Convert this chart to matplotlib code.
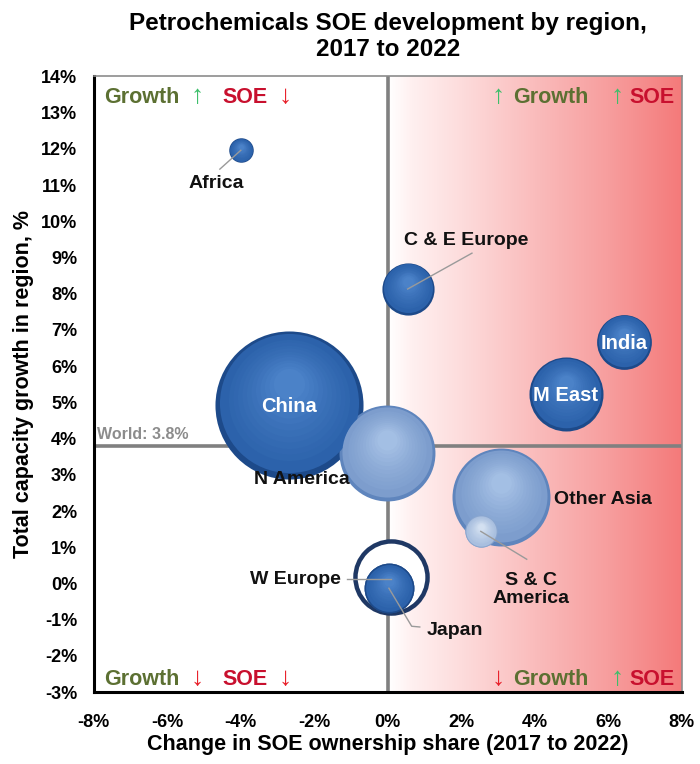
import numpy as np
import matplotlib
matplotlib.use("Agg")
import matplotlib.pyplot as plt
from matplotlib.colors import LinearSegmentedColormap, to_rgb
from matplotlib.offsetbox import TextArea, HPacker, AnchoredOffsetbox, DrawingArea
from matplotlib.transforms import ScaledTranslation

plt.rcParams['font.family'] = ['Liberation Sans', 'DejaVu Sans']
plt.rcParams['font.weight'] = 'bold'

# ---------------- data ----------------
regions = ['Africa', 'C & E Europe', 'China', 'N America', 'India', 'M East',
           'Other Asia', 'S & C America', 'W Europe', 'Japan']
soe_change = [-4.0, 0.54, -2.7, -0.03, 6.42, 4.84, 3.07, 2.53, 0.08, 0.03]   # %
cap_growth = [11.96, 8.13, 4.94, 3.6, 6.67, 5.24, 2.4, 1.44, 0.17, -0.13]    # %
bubble_area = [15, 68, 548, 230, 75, 137, 240, 26, 130, 62]                    # relative capacity
bubble_kind = ['dark', 'dark', 'dark', 'light', 'dark', 'dark', 'light', 'pale', 'ring', 'dark']
world_growth = 3.8

x_ticks = [-8, -6, -4, -2, 0, 2, 4, 6, 8]
y_ticks = list(range(-3, 15))

# ---------------- figure ----------------
fig = plt.figure(figsize=(7.0, 7.64), dpi=100)
ax = fig.add_axes([0.134, 0.094, 0.840, 0.806])
ax.set_xlim(-8, 8)
ax.set_ylim(-3, 14)

# background gradient on the right half
cmap = LinearSegmentedColormap.from_list(
    'pinkgrad', [(0.0, '#ffffff'), (0.08, '#fff0f0'), (0.25, '#fddcdc'),
                 (0.5, '#fabcbc'), (0.75, '#f79e9e'), (1.0, '#f47a7a')])
grad = np.linspace(0, 1, 256).reshape(1, -1)
ax.imshow(grad, extent=[0, 8, -3, 14], cmap=cmap, aspect='auto', zorder=0,
          interpolation='bilinear')

# reference lines
ax.axvline(0, color='#808080', lw=2.6, zorder=1)
ax.axhline(world_growth, color='#808080', lw=2.6, zorder=1)
ax.text(-7.9, world_growth + 0.12, 'World: 3.8%', color='#8c8c8c', fontsize=11.5,
        fontweight='bold', ha='left', va='bottom', zorder=2)

palettes = {
    'dark':  ('#1d4a8a', '#2c62ab', '#4b82c8'),
    'light': ('#5f85bd', '#7d9dcd', '#a3bfe4'),
    'pale':  ('#8aa6cf', '#a9bfdf', '#d3e0f1'),
}


def mix(c1, c2, t):
    a = np.array(to_rgb(c1)); b = np.array(to_rgb(c2))
    return tuple(a + (b - a) * t)


def px_radius(area):
    return np.sqrt(area * 10.0)


def draw_bubble(x, y, area, kind, z):
    r_px = px_radius(area)
    r_pt = r_px * 72.0 / fig.dpi
    if kind == 'ring':
        ax.scatter([x], [y], s=(2 * r_pt) ** 2, facecolor='white',
                   edgecolor='#1f3864', linewidth=3.2, zorder=z)
        return
    edge, body, hi = palettes[kind]
    n = 14
    for i in range(n):
        k = 1.0 - i / n * 0.85
        if i == 0:
            col = edge
        else:
            t = i / (n - 1)
            col = mix(body, hi, t ** 1.5) if i > 2 else body
        dy = (1 - k) * r_pt * 0.35
        tr = ax.transData + ScaledTranslation(0, dy / 72.0, fig.dpi_scale_trans)
        ax.scatter([x], [y], s=(2 * r_pt * k) ** 2, color=col, linewidths=0,
                   transform=tr, zorder=z + i * 0.001)


order = np.argsort(bubble_area)[::-1]
for idx in order:
    draw_bubble(soe_change[idx], cap_growth[idx], bubble_area[idx], bubble_kind[idx], 3)
# Japan above the W Europe ring, S & C America above Other Asia
for name in ['Japan', 'S & C America']:
    i = regions.index(name)
    draw_bubble(soe_change[i], cap_growth[i], bubble_area[i], bubble_kind[i], 5)

# labels
lab_kw = dict(fontsize=14, fontweight='bold', color='#111111', zorder=8)
line_kw = dict(color='#9a9a9a', lw=1.0, zorder=7)


def pos(name):
    i = regions.index(name)
    return soe_change[i], cap_growth[i]


# white labels inside bubbles
for name in ['China', 'India', 'M East']:
    x, y = pos(name)
    ax.text(x, y - 0.05, name, ha='center', va='center', color='white',
            fontsize=14.5, fontweight='bold', zorder=9)

# Africa
x, y = pos('Africa')
ax.plot([-4.57, x], [11.44, y], **line_kw)
ax.text(-4.68, 11.05, 'Africa', ha='center', va='center', **lab_kw)
# C & E Europe
x, y = pos('C & E Europe')
ax.plot([2.29, x], [9.12, y], **line_kw)
ax.text(2.12, 9.48, 'C & E Europe', ha='center', va='center', **lab_kw)
# N America
ax.text(-2.34, 2.88, 'N America', ha='center', va='center', **lab_kw)
# Other Asia
ax.text(5.85, 2.32, 'Other Asia', ha='center', va='center', **lab_kw)
# S & C America
x, y = pos('S & C America')
ax.plot([x, 3.78], [y, 0.67], **line_kw)
ax.text(3.89, -0.16, 'S & C\nAmerica', ha='center', va='center',
        linespacing=1.1, **lab_kw)
# W Europe
x, y = pos('W Europe')
ax.plot([-1.12, x], [0.12, 0.12], **line_kw)
ax.text(-2.5, 0.12, 'W Europe', ha='center', va='center', **lab_kw)
# Japan
x, y = pos('Japan')
ax.plot([x, 0.65, 0.87], [y, -1.18, -1.2], **line_kw)
ax.text(1.82, -1.29, 'Japan', ha='center', va='center', **lab_kw)

# quadrant annotations
GREEN_TXT = '#5c7032'
RED_TXT = '#c8102e'
UP = '#3cbf6a'
DOWN = '#e8202a'


def qbox(parts, loc, anchor):
    children = []
    for p in parts:
        if isinstance(p, (int, float)):
            children.append(DrawingArea(p * 0.72, 1))
        else:
            t, c = p
            fs = 19 if t in ('\u2191', '\u2193') else 15.5
            children.append(TextArea(t, textprops=dict(
                color=c, fontsize=fs, fontweight='bold',
                family=['Liberation Sans', 'DejaVu Sans'])))
    box = HPacker(children=children, align='baseline', pad=0, sep=0)
    ab = AnchoredOffsetbox(loc=loc, child=box, pad=0, borderpad=0, frameon=False,
                           bbox_to_anchor=anchor, bbox_transform=ax.transAxes)
    ab.set_zorder(10)
    ax.add_artist(ab)


qbox([('Growth', GREEN_TXT), 11, ('\u2191', UP), 19, ('SOE', RED_TXT), 11, ('\u2193', DOWN)],
     'upper left', (0.017, 0.988))
qbox([('\u2191', UP), 8, ('Growth', GREEN_TXT), 22, ('\u2191', UP), 6, ('SOE', RED_TXT)],
     'upper right', (0.988, 0.988))
qbox([('Growth', GREEN_TXT), 11, ('\u2193', DOWN), 19, ('SOE', RED_TXT), 11, ('\u2193', DOWN)],
     'lower left', (0.017, 0.004))
qbox([('\u2193', DOWN), 8, ('Growth', GREEN_TXT), 22, ('\u2191', UP), 6, ('SOE', RED_TXT)],
     'lower right', (0.988, 0.004))

# axes styling
ax.set_xticks(x_ticks)
ax.set_xticklabels([f'{v}%' for v in x_ticks])
ax.set_yticks(y_ticks)
ax.set_yticklabels([f'{v}%' for v in y_ticks])
ax.tick_params(axis='x', length=0, labelsize=13, pad=16)
ax.tick_params(axis='y', length=0, labelsize=13, pad=12)
for lab in ax.get_xticklabels() + ax.get_yticklabels():
    lab.set_fontweight('bold')
for side in ['left', 'bottom']:
    ax.spines[side].set_color('black')
    ax.spines[side].set_linewidth(2.2)
for side in ['top', 'right']:
    ax.spines[side].set_color('#8c8c8c')
    ax.spines[side].set_linewidth(1.2)

ax.set_xlabel('Change in SOE ownership share (2017 to 2022)', fontsize=15.5,
              fontweight='bold', labelpad=2)
ax.set_ylabel('Total capacity growth in region, %', fontsize=15.5,
              fontweight='bold', labelpad=5)
ax.set_title('Petrochemicals SOE development by region,\n2017 to 2022', fontsize=17.5,
             fontweight='bold', pad=15, linespacing=1.15)

fig.savefig('out.png', dpi=100)
